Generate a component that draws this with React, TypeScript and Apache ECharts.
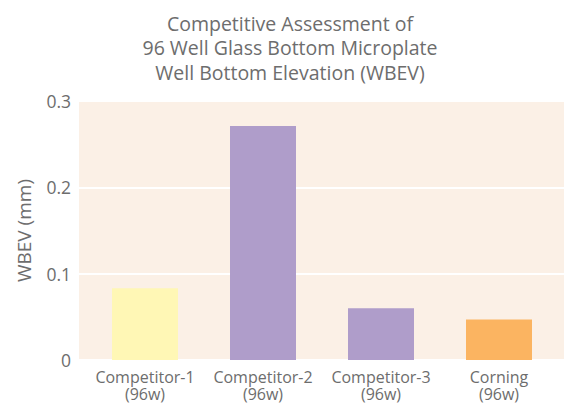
import React, { useEffect, useRef } from "react";
import * as echarts from "echarts";

const categories = ["Competitor-1\n(96w)", "Competitor-2\n(96w)", "Competitor-3\n(96w)", "Corning\n(96w)"];
const values = [0.083, 0.271, 0.06, 0.047];
const barColors = ["#FFF7B5", "#AF9DCA", "#AF9DCA", "#FBB461"];
const yTicks = [0, 0.1, 0.2, 0.3];
const titleLines = ["Competitive Assessment of", "96 Well Glass Bottom Microplate", "Well Bottom Elevation (WBEV)"];

const FONT = "Open Sans";
const GRAY = "#6d6d6d";

export default function App() {
  const ref = useRef<HTMLDivElement>(null);
  useEffect(() => {
    if (!ref.current) return;
    const chart = echarts.init(ref.current, undefined, { renderer: "svg" });
    chart.setOption({
      animation: false,
      title: {
        text: titleLines.join("\n"),
        left: 285,
        textAlign: "center",
        top: 6,
        textStyle: { fontFamily: FONT, fontSize: 19.5, fontWeight: "normal", color: GRAY, lineHeight: 24.5 },
      },
      grid: [
        { left: 79, right: 0, top: 101, bottom: 44, show: true, backgroundColor: "#FBF0E6", borderWidth: 0 },
        { left: 86, right: 6, top: 101, bottom: 44 },
      ],
      xAxis: [
        { gridIndex: 0, type: "category", data: categories, show: false },
        {
          gridIndex: 1,
          type: "category",
          data: categories,
          axisLine: { show: false },
          axisTick: { show: false },
          axisLabel: { fontFamily: FONT, fontSize: 16, color: GRAY, lineHeight: 17, margin: 8, interval: 0 },
        },
      ],
      yAxis: [
        {
          gridIndex: 0,
          type: "value",
          min: 0,
          max: 0.3,
          interval: 0.1,
          name: "WBEV (mm)",
          nameLocation: "middle",
          nameGap: 46,
          nameTextStyle: { fontFamily: FONT, fontSize: 19, color: GRAY },
          axisLine: { show: false },
          axisTick: { show: false },
          axisLabel: {
            fontFamily: FONT,
            fontSize: 17.5,
            color: GRAY,
            margin: 8,
            formatter: (v: number) => {
              const t = yTicks.find((x) => Math.abs(x - v) < 1e-9);
              return t === 0 ? "0" : String(Number(v.toFixed(1)));
            },
          },
          splitLine: { show: true, lineStyle: { color: "#ffffff", width: 2 } },
        },
        { gridIndex: 1, type: "value", min: 0, max: 0.3, interval: 0.1, show: false, splitLine: { show: false } },
      ],
      series: [
        {
          type: "bar",
          xAxisIndex: 1,
          yAxisIndex: 1,
          data: values.map((v, i) => ({ value: v, itemStyle: { color: barColors[i] } })),
          barWidth: 66,
        },
      ],
    });
    return () => chart.dispose();
  }, []);
  return <div ref={ref} style={{ width: 564, height: 404, position: "absolute", left: 0, top: 0 }} />;
}
